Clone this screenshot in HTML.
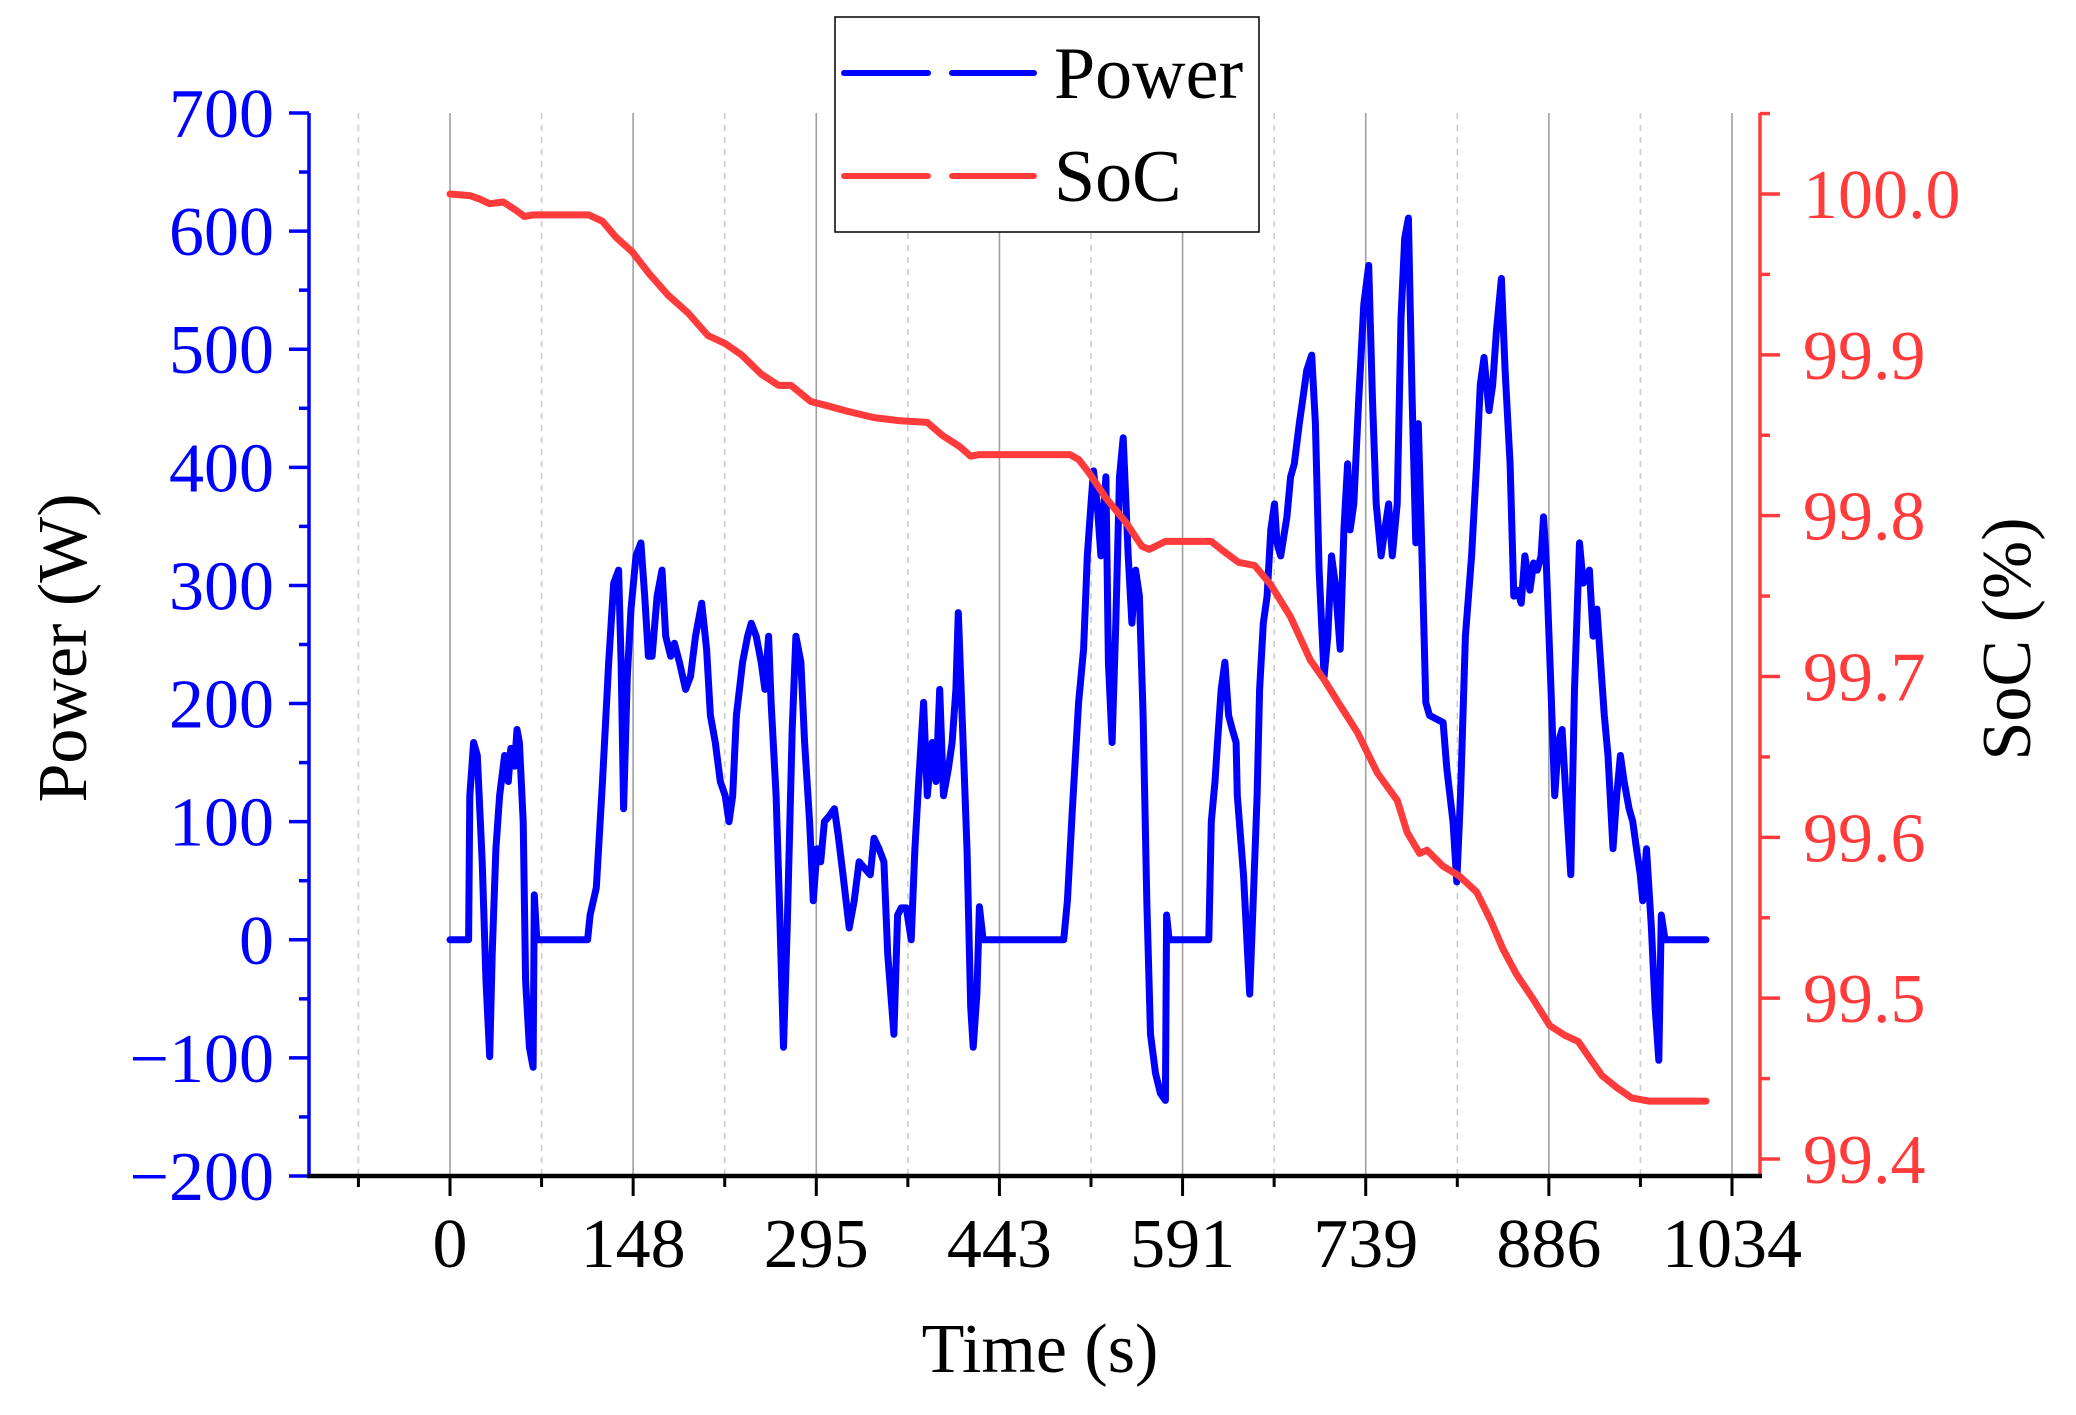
<!DOCTYPE html>
<html><head><meta charset="utf-8"><style>
html,body{margin:0;padding:0;background:#fff;}
svg{display:block;font-family:"Liberation Serif",serif;}
</style></head><body>
<svg id="chart" width="2076" height="1415" viewBox="0 0 2076 1415" xmlns="http://www.w3.org/2000/svg">
<g id="grid"></g>
<g id="series"></g>
<g id="axes"></g>
<text x="1040" y="1372" font-size="70" text-anchor="middle" fill="#000">Time (s)</text>
<text transform="translate(86,648) rotate(-90)" font-size="70" text-anchor="middle" fill="#000">Power (W)</text>
<text transform="translate(2030,639) rotate(-90)" font-size="70" text-anchor="middle" fill="#000">SoC (%)</text>
<g>
<rect x="835" y="17" width="424" height="215" fill="#fff" stroke="#000" stroke-width="1.5"/>
<line x1="844" y1="73" x2="1034" y2="73" stroke="#0000ff" stroke-width="6" stroke-linecap="round" stroke-dasharray="84,24"/>
<text x="1054" y="98" font-size="74" fill="#000">Power</text>
<line x1="844" y1="176" x2="1034" y2="176" stroke="#ff3b3b" stroke-width="6" stroke-linecap="round" stroke-dasharray="84,24"/>
<text x="1054" y="201" font-size="74" fill="#000">SoC</text>
</g>
</svg>
<script>
const powerT=[0,15,16,19,22,26,29,32,34,37,40,44,47,49,52,54,56,59,61,64,67,68,70,111,113,118,123,128,132,136,138,140,143,146,150,154,157,160,163,167,171,174,178,181,185,190,194,198,203,207,210,214,218,222,225,228,231,236,240,243,247,251,254,257,259,263,266,269,272,276,279,283,286,290,293,296,299,302,306,310,313,317,322,326,330,334,339,342,346,350,353,358,361,364,368,372,375,378,382,385,389,392,395,398,402,405,408,410,413,417,420,422,425,427,430,495,498,502,507,511,514,517,519,522,525,529,531,534,537,540,543,547,550,553,556,559,562,565,569,573,577,578,580,612,614,617,619,622,625,628,631,634,635,640,645,647,651,653,656,659,662,665,667,670,675,678,681,685,688,691,695,698,701,705,708,711,714,718,721,724,726,729,733,737,741,744,747,751,754,757,760,764,767,770,773,776,779,781,784,787,790,801,804,809,812,815,819,824,828,831,834,838,841,844,848,851,855,858,861,864,867,871,874,877,880,882,884,888,891,894,897,900,904,907,911,914,919,922,925,928,931,934,938,941,944,947,951,954,957,960,962,965,969,972,975,977,980,1013];
const powerW=[0,0,122,167,156,66,-35,-99,-12,77,122,156,134,162,147,178,167,100,-35,-91,-108,38,0,0,21,44,134,235,302,313,235,111,223,280,325,336,291,240,240,291,313,257,240,251,235,212,223,257,285,246,190,167,134,122,100,122,190,235,257,268,257,235,212,257,201,122,21,-91,10,178,257,235,167,100,33,77,66,100,105,111,89,55,10,33,66,61,55,86,77,66,-12,-80,21,27,27,0,77,134,201,122,167,134,212,122,145,167,212,277,190,77,-57,-91,-46,28,0,0,33,111,201,246,325,369,397,369,325,392,235,167,268,392,425,325,268,313,291,190,33,-80,-113,-130,-136,21,0,0,100,134,167,212,235,190,178,167,122,55,-46,10,122,212,268,291,347,369,336,325,358,392,403,437,459,482,495,437,313,223,257,325,302,246,347,403,347,369,459,538,571,459,369,325,347,369,325,369,526,594,611,459,336,437,325,201,190,184,145,100,49,122,257,325,403,470,493,448,470,515,560,482,403,291,296,285,325,296,319,313,325,358,325,212,122,167,178,122,55,212,336,302,313,257,280,235,190,156,77,122,156,134,111,100,77,55,33,77,10,-57,-102,21,0,0];
const socT=[0,16,23.5,32,43,53,60,67,112,123,134,147,160,176,192,208,222,235,251,265,275,291,306,320,342,363,385,397,411,420,427,500,507,516,529,545,558,564,577,614,622,636,649,662,678,694,705,718,732,748,764,772,782,788,801,814,828,839,849,860,874,887,899,910,919,929,940,953,967,1013];
const socV=[100.000,99.999,99.997,99.994,99.995,99.990,99.986,99.987,99.987,99.983,99.973,99.964,99.951,99.937,99.926,99.912,99.907,99.900,99.888,99.881,99.881,99.871,99.868,99.865,99.861,99.859,99.858,99.850,99.843,99.837,99.838,99.838,99.835,99.826,99.811,99.796,99.781,99.779,99.784,99.784,99.779,99.771,99.769,99.757,99.737,99.710,99.698,99.682,99.665,99.640,99.623,99.603,99.590,99.592,99.582,99.576,99.566,99.549,99.531,99.515,99.499,99.483,99.477,99.473,99.463,99.452,99.445,99.438,99.436,99.436];
const xTickLabels=["0","148","295","443","591","739","886","1034"];
const leftTickLabels=["700","600","500","400","300","200","100","0","\u2212100","\u2212200"];
const rightTickLabels=["100.0","99.9","99.8","99.7","99.6","99.5","99.4"];

const NS="http://www.w3.org/2000/svg";
const X=t=>450+t*(1282/1034);
const YP=p=>113+(700-p)*(1063/900);
const YS=s=>1159-(s-99.4)*(965/0.6);
function mk(parent,tag,attrs){const e=document.createElementNS(NS,tag);for(const k in attrs)e.setAttribute(k,attrs[k]);parent.appendChild(e);return e;}
const grid=document.getElementById('grid'),series=document.getElementById('series'),axes=document.getElementById('axes');
const step=1034/7;
for(let i=-0.5;i<=7;i+=0.5){
  const x=X(i*step);
  const l=mk(grid,'line',{x1:x,y1:113,x2:x,y2:1176,stroke:Number.isInteger(i)?'#a0a0a0':'#cccccc','stroke-width':1.6});
  if(!Number.isInteger(i))l.setAttribute('stroke-dasharray','6,6');
  
  
}
let d='';powerT.forEach((t,i)=>{d+=(i?'L':'M')+X(t).toFixed(1)+' '+YP(powerW[i]).toFixed(1);});
const pp=mk(series,'path',{d:d,fill:'none',stroke:'#0000ff','stroke-width':7,'stroke-linejoin':'round','stroke-linecap':'round'});


let d2='';socT.forEach((t,i)=>{d2+=(i?'L':'M')+X(t).toFixed(1)+' '+YS(socV[i]).toFixed(1);});
const sp=mk(series,'path',{d:d2,fill:'none',stroke:'#ff3b3b','stroke-width':7,'stroke-linejoin':'round','stroke-linecap':'round'});


const la=mk(axes,'line',{x1:309,y1:113,x2:309,y2:1177,stroke:'#0000ff','stroke-width':3.5});


for(let v=-200;v<=700;v+=50){
  const y=YP(v),major=v%100===0;
  const t=mk(axes,'line',{x1:major?289:299,y1:y,x2:309,y2:y,stroke:'#0000ff','stroke-width':3.5});
  
  
}
leftTickLabels.forEach((s,i)=>{
  const v=700-i*100;
  const tx=mk(axes,'text',{x:274,y:YP(v)+24,'font-size':70,'text-anchor':'end',fill:'#0000ff'});
  tx.textContent=s;
  
  
});
const ra=mk(axes,'line',{x1:1760,y1:113,x2:1760,y2:1177,stroke:'#ff3b3b','stroke-width':3.5});


for(let k=0;k<=13;k++){
  const v=99.4+k*0.05,y=YS(v);if(y<112)continue;
  const major=k%2===0;
  const t=mk(axes,'line',{x1:1760,y1:y,x2:major?1780:1770,y2:y,stroke:'#ff3b3b','stroke-width':3.5});
  
  
}
rightTickLabels.forEach((s,i)=>{
  const v=100-i*0.1;
  const tx=mk(axes,'text',{x:1803,y:YS(v)+24,'font-size':70,'text-anchor':'start',fill:'#ff3b3b'});
  tx.textContent=s;
  
  
});
const ba=mk(axes,'line',{x1:307,y1:1176,x2:1762,y2:1176,stroke:'#000','stroke-width':4.5});


for(let i=-0.5;i<=7;i+=0.5){
  const x=X(i*step),major=Number.isInteger(i);
  const t=mk(axes,'line',{x1:x,y1:1176,x2:x,y2:major?1196:1187,stroke:'#000','stroke-width':3});
  
  
}
xTickLabels.forEach((s,i)=>{
  const tx=mk(axes,'text',{x:X(i*step),y:1267,'font-size':70,'text-anchor':'middle',fill:'#000'});
  tx.textContent=s;
  
  
});
</script>
</body></html>
